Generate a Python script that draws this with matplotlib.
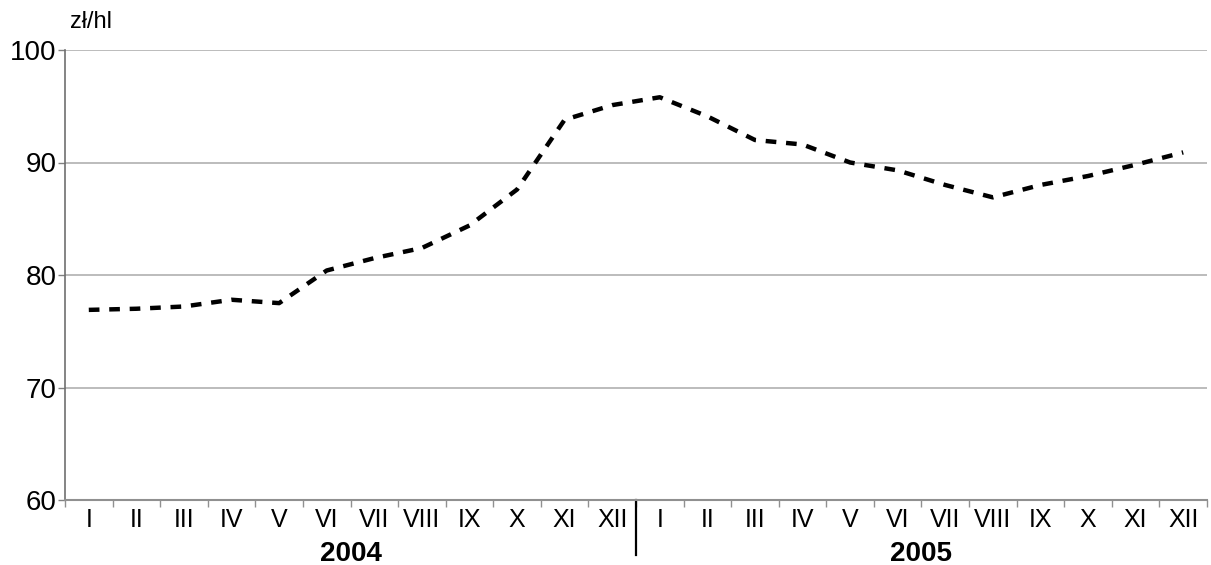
import matplotlib
matplotlib.use("Agg")
import matplotlib.pyplot as plt
import matplotlib.transforms as mtransforms
import numpy as np

plt.rcParams['font.family'] = ['Liberation Sans', 'DejaVu Sans']

months = ["I", "II", "III", "IV", "V", "VI", "VII", "VIII", "IX", "X", "XI", "XII"]
years = ["2004", "2005"]
prices = [76.9, 77.0, 77.2, 77.8, 77.5, 80.4, 81.5, 82.4, 84.4, 87.6, 93.8, 95.1,
          95.8, 94.1, 92.0, 91.6, 90.0, 89.3, 88.0, 86.9, 88.0, 88.8, 89.8, 90.9]
unit_label = "zł/hl"
y_ticks = [60, 70, 80, 90, 100]

W, H = 1211, 565
fig = plt.figure(figsize=(W / 100, H / 100), dpi=100)
left, right, top, bottom = 65, 1207, 50, 500
ax = fig.add_axes([left / W, 1 - bottom / H, (right - left) / W, (bottom - top) / H])

labels = months * len(years)
x = np.arange(len(labels))
ax.plot(x, prices, color='black', linewidth=3.2, linestyle=(0, (2.4, 2.2)),
        dash_capstyle='butt', zorder=3)

ax.set_xlim(-0.5, len(labels) - 0.5)
ax.set_ylim(60, 100)
ax.set_yticks(y_ticks)
ax.set_yticklabels([str(v) for v in y_ticks], fontsize=20)
ax.yaxis.grid(True, color='#b0b0b0', linewidth=1.2)
ax.set_axisbelow(True)

ax.set_xticks(x)
ax.set_xticklabels(labels, fontsize=18)
ax.set_xticks(np.arange(-0.5, len(labels) + 0.5, 1), minor=True)
ax.tick_params(axis='x', which='major', length=0, pad=6)
ax.tick_params(axis='x', which='minor', length=5, color='#909090', width=1)
ax.tick_params(axis='y', length=5, color='#808080', width=1, pad=1)

for s in ['top', 'right']:
    ax.spines[s].set_visible(False)
ax.spines['left'].set_color('#707070')
ax.spines['bottom'].set_color('#909090')
ax.spines['left'].set_linewidth(1.2)
ax.spines['bottom'].set_linewidth(1.5)

trans = mtransforms.blended_transform_factory(ax.transData, ax.transAxes)
ax.plot([11.5, 11.5], [0, -55 / (bottom - top)], color='black', linewidth=1.6,
        transform=trans, clip_on=False)

for i, yr in enumerate(years):
    ax.text(i * 12 + 5.5, -54 / (bottom - top), yr, transform=trans, ha='center',
            va='center', fontsize=20, fontweight='bold')

fig.text(70 / W, 1 - 22 / H, unit_label, fontsize=17, ha='left', va='center')

fig.savefig("out.png", dpi=100)
